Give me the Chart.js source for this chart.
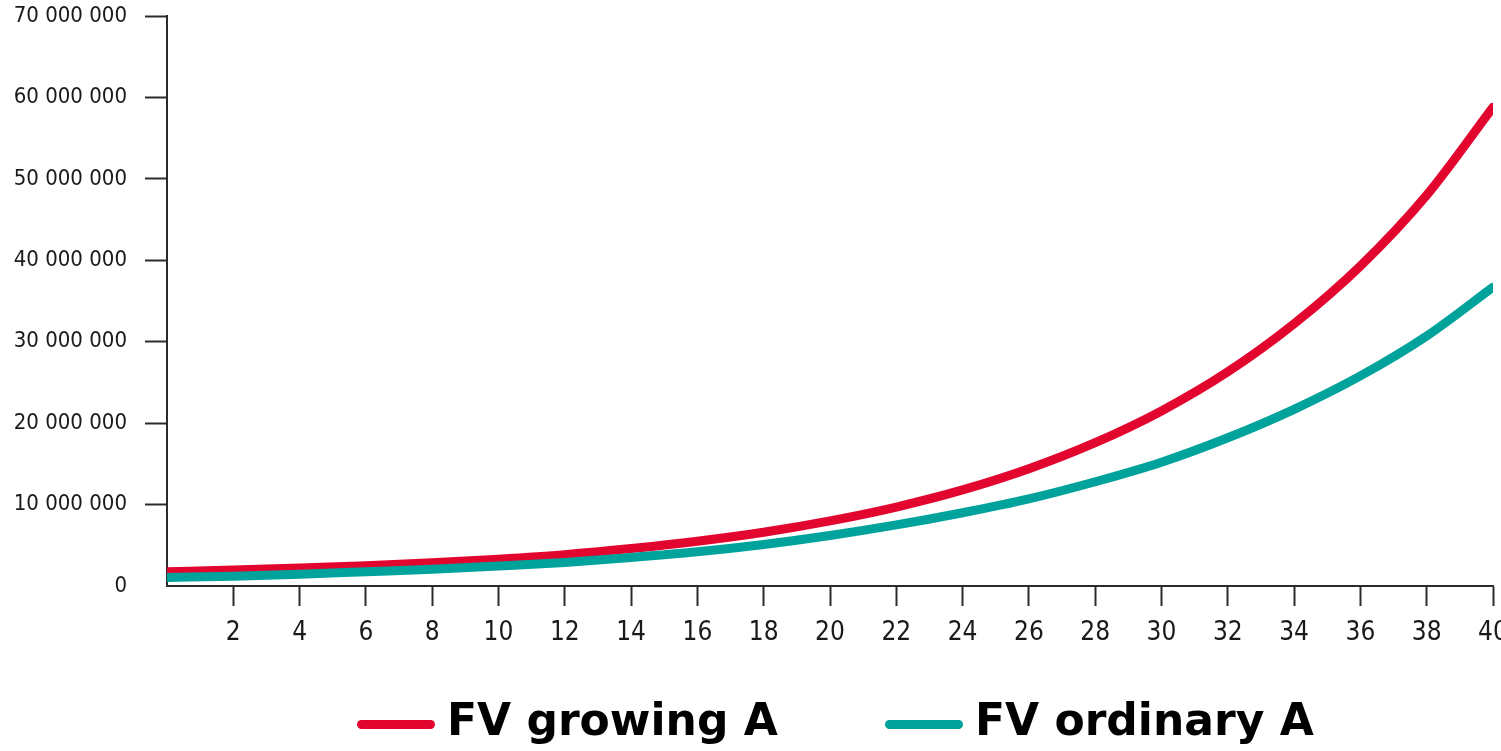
<!DOCTYPE html>
<html>
<head>
<meta charset="utf-8">
<script src="https://cdn.jsdelivr.net/npm/chart.js@4"></script>
<style>
  body { margin: 0; background: #fff; }
  #wrap { position: relative; width: 1501px; height: 751px; }
  .legend-item { position: absolute; top: 694px; display: flex; align-items: flex-start; }
  .legend-swatch { width: 78px; height: 9px; border-radius: 5px; margin-top: 26px; margin-right: 12px; }
  .legend-text { font-family: "DejaVu Sans", sans-serif; font-weight: bold; font-size: 44px; color: #000; line-height: normal; white-space: nowrap; }
</style>
</head>
<body>
<div id="wrap">
  <canvas id="myChart" width="1501" height="751"></canvas>
  <div id="legend"></div>
</div>
<script>
// periods on the x axis
const periods = [0, 2, 4, 6, 8, 10, 12, 14, 16, 18, 20, 22, 24, 26, 28, 30, 32, 34, 36, 38, 40];

// future value of a growing annuity
const fvGrowing = [1750000, 1950000, 2200000, 2500000, 2850000, 3300000, 3850000, 4600000, 5500000, 6600000,
    8000000, 9700000, 11800000, 14400000, 17600000, 21500000, 26300000, 32200000, 39300000, 48000000, 58800000];

// future value of an ordinary annuity
const fvOrdinary = [1050000, 1200000, 1450000, 1750000, 2050000, 2450000, 2900000, 3500000, 4200000, 5100000,
    6200000, 7500000, 9000000, 10700000, 12800000, 15200000, 18200000, 21700000, 25800000, 30700000, 36700000];

const seriesLabels = ['FV growing A', 'FV ordinary A'];
const seriesColors = ['#e2062f', '#00a39b'];

// legend positions
const legendLeft = [357, 885];

const axisColor = '#2b2b2b';
const tickFamily = "'Liberation Sans Narrow', 'DejaVu Sans Condensed', sans-serif";

function toPoints(values) {
    return periods.map((p, i) => ({ x: p, y: values[i] }));
}

function formatNumber(v) {
    return String(v).replace(/\B(?=(\d{3})+(?!\d))/g, ' ');
}

const ctx = document.getElementById('myChart').getContext('2d');
const myChart = new Chart(ctx, {
    type: 'line',
    data: {
        datasets: [{
            label: seriesLabels[0],
            data: toPoints(fvGrowing),
            borderColor: seriesColors[0],
            backgroundColor: seriesColors[0],
            borderWidth: 9,
            borderCapStyle: 'round',
            pointRadius: 0,
            cubicInterpolationMode: 'monotone',
            order: 2
        }, {
            label: seriesLabels[1],
            data: toPoints(fvOrdinary),
            borderColor: seriesColors[1],
            backgroundColor: seriesColors[1],
            borderWidth: 9,
            borderCapStyle: 'round',
            pointRadius: 0,
            cubicInterpolationMode: 'monotone',
            order: 1 // ordinary line sits on top
        }]
    },
    options: {
        responsive: false,
        animation: false,
        devicePixelRatio: 1,
        layout: {
            padding: { top: 16, right: 0, bottom: 0, left: 0 }
        },
        plugins: {
            legend: { display: false },
            tooltip: { enabled: false }
        },
        scales: {
            x: {
                type: 'linear',
                min: 0,
                max: 40,
                border: { color: axisColor, width: 2 },
                grid: {
                    drawOnChartArea: false,
                    tickLength: 20,
                    tickWidth: 2,
                    tickColor: c => (c.tick && c.tick.value === 0) ? 'rgba(0,0,0,0)' : axisColor
                },
                ticks: {
                    stepSize: 2,
                    padding: 12,
                    color: '#1a1a1a',
                    font: { family: tickFamily, size: 26 },
                    maxRotation: 0,
                    autoSkip: false,
                    callback: v => v === 0 ? '' : v
                },
                afterFit: scale => {
                    scale.height = 165;
                    scale.paddingLeft = 0;
                    scale.paddingRight = 8;
                }
            },
            y: {
                min: 0,
                max: 70000000,
                border: { color: axisColor, width: 2 },
                grid: {
                    drawOnChartArea: false,
                    tickLength: 22,
                    tickWidth: 2,
                    tickColor: c => (c.tick && c.tick.value === 0) ? 'rgba(0,0,0,0)' : axisColor
                },
                ticks: {
                    stepSize: 10000000,
                    padding: 18,
                    color: '#1a1a1a',
                    font: { family: tickFamily, size: 22 },
                    callback: v => formatNumber(v)
                },
                afterFit: scale => {
                    scale.width = 167;
                    scale.paddingTop = 0;
                    scale.paddingBottom = 0;
                }
            }
        }
    }
});

// Build the legend under the chart from the datasets
const legendEl = document.getElementById('legend');
myChart.data.datasets.forEach((ds, i) => {
    const item = document.createElement('div');
    item.className = 'legend-item';
    item.style.left = legendLeft[i] + 'px';
    item.innerHTML = `<span class="legend-swatch" style="background:${ds.borderColor}"></span><span class="legend-text">${ds.label}</span>`;
    legendEl.appendChild(item);
});
</script>
</body>
</html>
